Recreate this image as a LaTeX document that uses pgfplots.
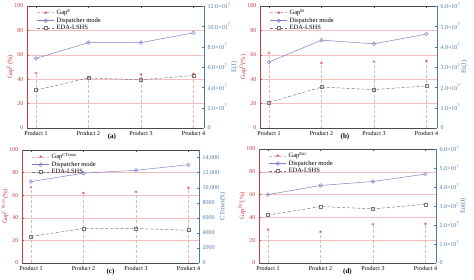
\documentclass[border=0pt]{standalone}
\usepackage{pgfplots}
\pgfplotsset{compat=1.18}
\usepackage{fontspec}
\setmainfont{Liberation Serif}
\definecolor{lred}{RGB}{200,60,70}
\definecolor{rblue}{RGB}{80,120,160}
\definecolor{dispc}{RGB}{125,130,200}
\definecolor{edac}{RGB}{120,120,120}
\definecolor{gapc}{RGB}{215,80,105}
\definecolor{gridc}{RGB}{245,190,190}
\tikzset{panellab/.style={anchor=north, font=\fontsize{7}{7}\selectfont\bfseries, yshift=-2pt}}
\pgfplotsset{
  base/.style={width=177pt,height=122pt,scale only axis,
    xmin=0.83,xmax=4.2, xtick={1,2,3,4},
    tick label style={font=\fontsize{6}{6.5}\selectfont},
    label style={font=\fontsize{6.5}{7}\selectfont},
    scaled y ticks=false,
    /pgf/number format/assume math mode=true, clip=false},
  leftax/.style={base, ymin=0,ymax=100, ytick={0,20,...,100},
    xticklabels={Product 1,Product 2,Product 3,Product 4},
    separate axis lines, x axis line style={black!70},
    y axis line style={lred, line width=0.8pt},
    ytick pos=left, xtick pos=both,
    yticklabel style={lred}, ylabel style={lred, yshift=-6pt},
    ymajorgrids, grid style={gridc, line width=0.4pt},
    major tick length=2pt, tick style={black!70},
    ytick style={lred}},
  rightax/.style={base, axis y line*=right, axis x line=none,
    ymin=0, yticklabel style={rblue}, ylabel style={rblue, yshift=6pt},
    y axis line style={rblue, line width=0.8pt}, ytick style={rblue},
    major tick length=2pt,
    legend style={at={(0.05,1.0)}, anchor=north west, draw=none, fill=none,
      font=\fontsize{6.5}{7}\selectfont, row sep=-2.5pt, inner sep=1pt},
    legend cell align=left},
  gapst/.style={ycomb, gapc!45, densely dashed, line width=0.3pt,
    mark=asterisk, mark size=1.5pt, mark options={solid, gapc}},
  dispst/.style={dispc, line width=0.5pt, mark=o, mark size=1.8pt},
  edast/.style={edac, densely dashed, line width=0.5pt, mark=square, mark size=1.5pt, mark options={solid}},
  gapleg/.style={gapc!45, densely dashed, mark=asterisk, mark size=1.5pt, mark options={solid, gapc}},
}
\begin{document}
\begin{tikzpicture}
\path[use as bounding box] (0,0) rectangle (474pt,280pt);
% ---------- (a)
\begin{axis}[leftax, at={(27pt,152pt)}, anchor=south west, ylabel={Gap\textsuperscript{E}(\%)}]
\addplot[gapst] coordinates {(1,45) (2,41.5) (3,44) (4,44.5)};
\node[panellab] at (rel axis cs:0.48,0) {(a)};
\end{axis}
\begin{axis}[rightax, at={(27pt,152pt)}, anchor=south west, ymax=12,
  ytick={0,2,4,6,8,10,12},
  yticklabels={0,2.0×10\textsuperscript{7},4.0×10\textsuperscript{7},6.0×10\textsuperscript{7},8.0×10\textsuperscript{7},10.0×10\textsuperscript{7},12.0×10\textsuperscript{7}},
  ylabel={E(J)}]
\addlegendimage{gapleg}\addlegendentry{Gap\textsuperscript{E}}
\addplot[dispst] coordinates {(1,6.84) (2,8.4) (3,8.4) (4,9.36)};\addlegendentry{Dispatcher mode}
\addplot[edast] coordinates {(1,3.72) (2,4.92) (3,4.74) (4,5.16)};\addlegendentry{EDA-LSHS}
\end{axis}
% ---------- (b)
\begin{axis}[leftax, at={(260pt,152pt)}, anchor=south west, ylabel={Gap\textsuperscript{Et}(\%)}]
\addplot[gapst] coordinates {(1,61.5) (2,53.5) (3,54.5) (4,55)};
\node[panellab] at (rel axis cs:0.48,0) {(b)};
\end{axis}
\begin{axis}[rightax, at={(260pt,152pt)}, anchor=south west, ymax=6,
  ytick={0,1,2,3,4,5,6},
  yticklabels={0,1.0×10\textsuperscript{7},2.0×10\textsuperscript{7},3.0×10\textsuperscript{7},4.0×10\textsuperscript{7},5.0×10\textsuperscript{7},6.0×10\textsuperscript{7}},
  ylabel={Et(J)}]
\addlegendimage{gapleg}\addlegendentry{Gap\textsuperscript{Et}}
\addplot[dispst] coordinates {(1,3.24) (2,4.32) (3,4.14) (4,4.62)};\addlegendentry{Dispatcher mode}
\addplot[edast] coordinates {(1,1.26) (2,2.01) (3,1.89) (4,2.07)};\addlegendentry{EDA-LSHS}
\end{axis}
% ---------- (c)
\begin{axis}[leftax, at={(22pt,17pt)}, anchor=south west, height=113pt, ylabel={Gap\textsuperscript{CTmax}(\%)}]
\addplot[gapst] coordinates {(1,67) (2,62) (3,63) (4,66.5)};
\node[panellab] at (rel axis cs:0.5,0) {(c)};
\end{axis}
\begin{axis}[rightax, at={(22pt,17pt)}, anchor=south west, height=113pt, ymax=15000,
  ytick={0,2000,4000,6000,8000,10000,12000,14000},
  yticklabels={0,2000,4000,6000,8000,{10,000},{12,000},{14,000}},
  ylabel={CTmax(S)}]
\addlegendimage{gapleg}\addlegendentry{Gap\textsuperscript{CTmax}}
\addplot[dispst] coordinates {(1,10800) (2,11925) (3,12300) (4,13050)};\addlegendentry{Dispatcher mode}
\addplot[edast] coordinates {(1,3525) (2,4575) (3,4575) (4,4350)};\addlegendentry{EDA-LSHS}
\end{axis}
% ---------- (d)
\begin{axis}[leftax, at={(259pt,17pt)}, anchor=south west, height=114pt, ylabel={Gap\textsuperscript{Ent}(\%)}]
\addplot[gapst] coordinates {(1,29.5) (2,27.5) (3,34) (4,34.5)};
\node[panellab] at (rel axis cs:0.5,0) {(d)};
\end{axis}
\begin{axis}[rightax, at={(259pt,17pt)}, anchor=south west, height=114pt, ymax=6,
  ytick={0,1,2,3,4,5,6},
  yticklabels={0,1.0×10\textsuperscript{7},2.0×10\textsuperscript{7},3.0×10\textsuperscript{7},4.0×10\textsuperscript{7},5.0×10\textsuperscript{7},6.0×10\textsuperscript{7}},
  ylabel={Ent(J)}]
\addlegendimage{gapleg}\addlegendentry{Gap\textsuperscript{Ent}}
\addplot[dispst] coordinates {(1,3.6) (2,4.08) (3,4.29) (4,4.68)};\addlegendentry{Dispatcher mode}
\addplot[edast] coordinates {(1,2.52) (2,2.97) (3,2.85) (4,3.09)};\addlegendentry{EDA-LSHS}
\end{axis}
\end{tikzpicture}
\end{document}
